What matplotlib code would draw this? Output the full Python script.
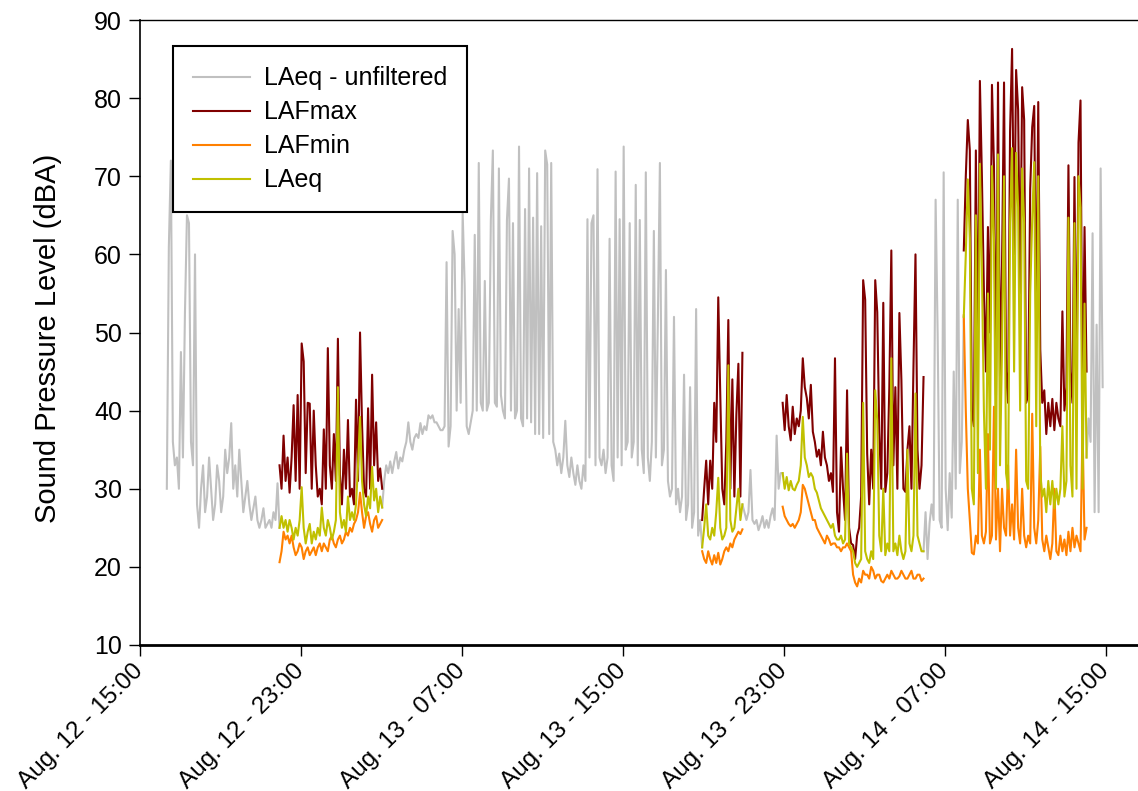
import matplotlib
matplotlib.use("Agg")
import matplotlib.pyplot as plt
import matplotlib.dates as mdates
import pandas as pd

# samples every 6 minutes
STEP = "6min"

# unfiltered LAeq, shown where no filtered data exists
gray_starts = ["2014-08-12 16:20", "2014-08-13 03:02", "2014-08-13 20:56",
               "2014-08-14 05:56", "2014-08-14 14:02"]
gray_1 = [30, 61, 72, 36, 33, 34, 30, 47.5, 34, 52.5,
          65, 64, 36, 33, 60, 28, 25, 30, 33, 27,
          29, 34, 30, 26, 28, 33, 31, 27, 29, 35,
          32, 34, 38.4, 30, 33, 29, 35, 31, 27, 29,
          31, 28, 26, 27.5, 29, 26, 25, 26, 27.5, 25,
          25.5, 26, 25, 27, 26, 30.7, 25]
gray_2 = [27.6, 31, 33, 32, 33.5, 32, 33.5, 34.7, 32.6, 34,
          33.5, 35, 36, 38.5, 36, 35, 36.5, 37, 36.5, 38.4,
          37, 38, 37.5, 39.4, 39, 39.4, 38.5, 38.5, 38, 37.5,
          37.5, 38, 59, 35.4, 38, 63, 60, 40, 53, 41,
          65.3, 56, 38, 37, 38.5, 40, 62.5, 40, 71.7, 41,
          40, 56.6, 40, 41, 64.4, 73.3, 41, 40.5, 71, 42,
          40, 39, 64.4, 69.7, 40, 64, 39, 40, 73.8, 39,
          38, 65.8, 39, 71, 38.5, 64.7, 37, 70.4, 37, 63.6,
          36.5, 73.3, 71.5, 37, 71.7, 36, 35, 33, 34.5, 32,
          34, 38.7, 33, 31.5, 34, 32, 30.5, 33, 31, 30,
          33, 31, 64.5, 34, 64, 65, 33, 70.9, 34, 33,
          35, 32, 34, 62, 33, 31, 70.6, 34, 64.5, 33,
          73.8, 35, 36, 64, 34, 36, 68.9, 33, 64.4, 35,
          32, 70.5, 34, 31, 36, 63, 34, 51.7, 71.7, 33,
          35, 58, 31, 29, 30, 52, 28, 30, 27, 29,
          44.6, 26, 28, 43, 25, 27, 53, 24, 26, 22.5]
gray_3 = [28, 27, 26, 27, 32.4, 26, 25.5, 26, 24.7, 25.5,
          26.5, 25, 26, 25, 26.5, 27.5, 26, 36.8, 30, 32, 32]
gray_4 = [22, 27, 21, 25.6, 28, 26, 67, 50, 26, 25,
          70.5, 30, 24.7, 32, 26.3, 45, 30, 67, 32, 36, 52]
gray_5 = [34, 39, 36, 62.7, 27, 51, 27, 71, 43]

# filtered periods
period_starts = ["2014-08-12 21:56", "2014-08-13 18:56", "2014-08-13 22:56", "2014-08-14 07:56"]

lafmax_1 = [33, 30, 36.8, 31, 34, 29.5, 34, 40.7, 31, 42,
            30, 48.6, 46.3, 32, 41, 40.9, 30, 40, 33, 29,
            30, 28, 37.6, 30, 48, 33, 30, 37, 31, 49.2,
            31.8, 28, 35, 30, 38.8, 29, 30, 28, 41.4, 31,
            50, 38.2, 30, 29, 40.3, 30, 44.6, 33, 38.5, 31,
            32.6, 30]
laeq_1 = [25, 26.5, 25, 26, 24.5, 26, 25, 23.5, 25, 24,
          26, 30.2, 25, 23, 24.5, 25.5, 23, 24.5, 23.5, 25,
          24, 27.6, 25, 24, 26, 25, 23.5, 24.5, 26, 43,
          27, 25, 26, 24.5, 29, 26, 27, 26, 28, 33,
          39.2, 31, 28, 26.5, 29, 27.5, 32.8, 28.5, 30, 27,
          29, 27.6]
lafmin_1 = [20.6, 22, 24.5, 23.5, 24, 23, 24, 22.5, 21.5, 22,
            23, 22.5, 21, 22, 22.5, 21.5, 22, 22.5, 21.5, 22.5,
            23, 22, 23, 22.5, 22, 23.5, 24, 23, 22.5, 23.5,
            24, 23, 23.5, 24.5, 24, 25, 24.5, 25.5, 26, 27,
            29.5, 27, 25, 26.5, 27, 25.5, 24.5, 26, 26.5, 25,
            25.5, 26]

lafmax_2 = [26, 30, 33.6, 28, 33.6, 30, 41, 36, 54.5, 42,
            30, 28, 36, 51.6, 30, 44, 29, 39.5, 46, 29, 47.4]
laeq_2 = [22.5, 25, 28, 24, 23.5, 25, 24, 27, 31.4, 25,
          23.5, 24, 25, 45.8, 26, 24.5, 25, 27.5, 30, 26, 28]
lafmin_2 = [22, 21, 20.5, 22, 21, 20.3, 21.5, 20.5, 21.8, 20.3,
            21, 22, 22.5, 22, 23, 22.5, 23.5, 24, 24.5, 24.2, 24.8]

lafmax_3 = [41, 37.5, 42, 38, 36.2, 40.5, 37, 39, 38, 40,
            46.7, 43, 41.6, 39, 43.3, 37.3, 36, 34.1, 35, 33,
            37.3, 34, 33, 31, 32, 29.6, 46.7, 27, 24.5, 35.3,
            30, 26, 42.6, 25, 23, 22.8, 21, 24, 25, 29,
            56.7, 54.2, 34.5, 28, 35, 30, 56.7, 52.6, 37.3, 30,
            53.8, 29.6, 32, 43, 60.5, 33, 43, 30, 52.5, 43.9,
            30, 29.6, 35, 38, 30, 45.6, 60, 35, 30, 33,
            44.3]
laeq_3 = [32, 30, 31.5, 29.8, 31, 30, 29.8, 30.5, 31, 33,
          39.2, 34, 33, 31.5, 32, 31.5, 30, 29.5, 28.5, 27.5,
          27, 26.5, 26, 25.5, 25, 25.5, 24, 23.5, 23.5, 24,
          23, 23.5, 34.5, 23, 22.5, 22, 20.5, 20, 20.5, 21,
          41, 22, 21, 20.5, 22, 21, 42.6, 38.8, 24, 22,
          30, 21.5, 23, 22, 46.7, 22, 23, 21.5, 24, 22,
          21, 22, 35, 23, 22, 24, 42.2, 24, 23, 22,
          22]
lafmin_3 = [27.7, 26.5, 26, 25.5, 25.2, 25.5, 25, 25.5, 26, 27,
            30.5, 30, 29, 28, 27, 26, 26, 25, 24.5, 24,
            23.5, 23, 24, 23.5, 22.8, 23, 23, 22.5, 22.5, 22,
            22.5, 22.5, 23, 22.5, 22, 19, 18, 17.5, 18.5, 18,
            19.5, 19, 19, 18.5, 20, 19.5, 18.5, 19, 19, 18.2,
            18, 18.5, 19, 18.5, 19.5, 19, 18.5, 18.5, 18.8, 19.5,
            19, 18.5, 18.5, 19, 19.5, 18.5, 18.5, 19, 19, 18.2,
            18.5]

lafmax_4 = [60.5, 70, 77.2, 73.3, 40, 38, 73.3, 45, 82.2, 70,
            55.2, 45, 63.5, 50, 81.7, 71.3, 42, 82, 44.4, 58.6,
            82, 45, 41, 75.8, 86.3, 60, 83.6, 78.5, 55, 81.4,
            77.2, 41, 42, 68.4, 76.3, 79, 50, 79.5, 47.8, 41,
            42.6, 37, 41, 38, 41.5, 37.5, 41, 39, 38, 52.7,
            40, 43, 71.4, 45, 41, 69.9, 42, 74.3, 79.7, 39,
            63.5, 45]
laeq_4 = [52, 60, 69.6, 62, 30, 28, 65, 32, 71.6, 58,
          40, 30, 55, 35, 71.3, 62, 30, 72.8, 33, 48,
          70, 32, 30, 64, 73.6, 45, 73, 66, 40, 71,
          64, 31, 30, 55, 64.5, 71.8, 38, 70, 32, 29,
          30, 27, 31, 28, 31, 27.5, 30, 28, 30, 38,
          29, 31, 64.7, 33, 29, 64, 30, 70, 66, 30,
          53.7, 34]
lafmin_4 = [52.2, 40, 30, 26, 21.8, 21.6, 24, 23, 35, 24,
            23, 24.5, 37, 23, 24, 40.5, 23.5, 30, 22, 30,
            25, 24, 33, 24, 28, 23.5, 35, 25, 23, 30,
            24, 22.5, 24, 23, 39.6, 25, 23, 26, 35.4, 23.5,
            22, 24, 22.5, 21, 23, 30, 22, 21.5, 24, 22,
            23.5, 21.5, 24.5, 22, 25, 22.5, 24, 23, 22, 38,
            23.5, 25]

gray = [gray_1, gray_2, gray_3, gray_4, gray_5]
lafmax = [lafmax_1, lafmax_2, lafmax_3, lafmax_4]
laeq = [laeq_1, laeq_2, laeq_3, laeq_4]
lafmin = [lafmin_1, lafmin_2, lafmin_3, lafmin_4]

plt.rcParams['font.family'] = ['Liberation Sans', 'DejaVu Sans']

fig = plt.figure(figsize=(11.38, 7.91), dpi=100)
ax = fig.add_axes([140 / 1138, 146 / 791, 998 / 1138, 625 / 791])

lw = 1.5
for k, start in enumerate(gray_starts):
    t = pd.date_range(start, periods=len(gray[k]), freq=STEP)
    ax.plot(t, gray[k], color='#C0C0C0', lw=lw, label='LAeq - unfiltered' if k == 0 else None)

for k, start in enumerate(period_starts):
    t = pd.date_range(start, periods=len(lafmax[k]), freq=STEP)
    ax.plot(t, lafmax[k], color='#800000', lw=lw, label='LAFmax' if k == 0 else None)
    t = pd.date_range(start, periods=len(lafmin[k]), freq=STEP)
    ax.plot(t, lafmin[k], color='#FF8000', lw=lw, label='LAFmin' if k == 0 else None)
    t = pd.date_range(start, periods=len(laeq[k]), freq=STEP)
    ax.plot(t, laeq[k], color='#C0C000', lw=lw, label='LAeq' if k == 0 else None)

# axes
x0 = pd.Timestamp("2014-08-12 15:00")
ax.set_xlim(x0, x0 + pd.Timedelta(hours=49.59))
ax.set_ylim(10, 90)
ax.set_yticks(range(10, 91, 10))
ax.xaxis.set_major_locator(mdates.HourLocator(byhour=[7, 15, 23]))
ax.xaxis.set_major_formatter(mdates.DateFormatter('%b. %d - %H:%M'))
ax.tick_params(axis='both', direction='out', length=8, width=1, pad=5)
ax.tick_params(axis='y', labelsize=18)
ax.tick_params(axis='x', labelsize=17.5, pad=8)
plt.setp(ax.get_xticklabels(), rotation=45, ha='right', va='center', rotation_mode='anchor')
ax.spines['right'].set_visible(False)
ax.spines['bottom'].set_linewidth(2)
ax.spines['left'].set_linewidth(1.2)
ax.spines['top'].set_linewidth(1)

ax.set_ylabel("Sound Pressure Level (dBA)", fontsize=21)
ax.yaxis.set_label_coords(-0.078, 0.49)

leg = ax.legend(loc='upper left', bbox_to_anchor=(0.033, 0.958), fontsize=18,
                fancybox=False, edgecolor='black', framealpha=1, borderpad=0.8,
                handlelength=2.3, handletextpad=0.55, labelspacing=0.4, borderaxespad=0)
leg.get_frame().set_linewidth(1.5)
for line in leg.get_lines():
    line.set_linewidth(lw)

fig.savefig("out.png", dpi=100)
